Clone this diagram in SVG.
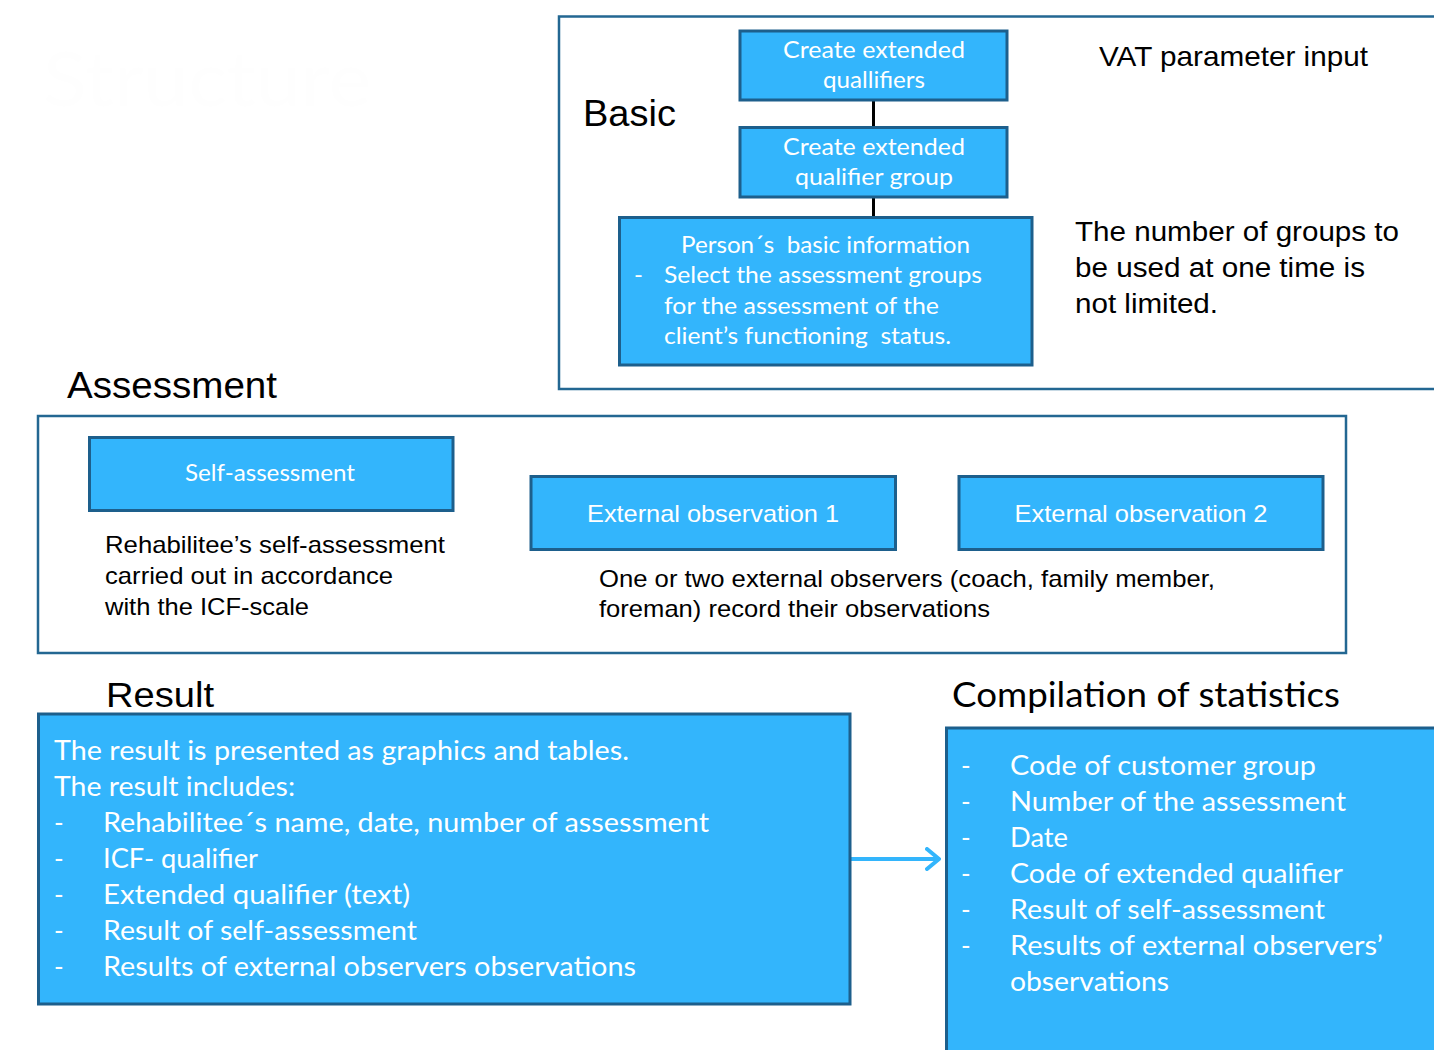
<svg xmlns="http://www.w3.org/2000/svg" width="1434" height="1050" viewBox="0 0 1434 1050">
<style>
.box{fill:#33b5fc;stroke:#1d5f8c;stroke-width:3}
.frame{fill:none;stroke:#236792;stroke-width:2.5}
.w{font-family:Lato,'Open Sans','Noto Sans',sans-serif;fill:#ffffff}
.k{font-family:'Liberation Sans',Arial,sans-serif;fill:#000000}
.c{font-family:Lato,'Open Sans','Noto Sans',sans-serif;fill:#000000}
.pre{white-space:pre}
.conn{stroke:#000;stroke-width:3;fill:none}
.arrow{stroke:#33b5fc;stroke-width:4;fill:none}
</style>
<defs>
<marker id="chev" viewBox="0 0 16 24" refX="14" refY="12" markerWidth="16" markerHeight="24" markerUnits="userSpaceOnUse" orient="auto">
<path d="M2,2 L14,12 L2,22" fill="none" stroke="#33b5fc" stroke-width="4" stroke-linecap="round" stroke-linejoin="round"/>
</marker>
</defs>
<rect width="1434" height="1050" fill="#ffffff"/>

<text x="43" y="106" font-size="76" class="c" style="fill:#fefefe" textLength="328" lengthAdjust="spacingAndGlyphs">Structure</text>

<g id="basic">
<rect class="frame" x="559" y="16.5" width="890" height="372.5"/>
<text x="583" y="126" font-size="37" class="k" textLength="93" lengthAdjust="spacingAndGlyphs">Basic</text>
<text x="1099" y="66" font-size="28" class="k" textLength="269" lengthAdjust="spacingAndGlyphs">VAT parameter input</text>
<text font-size="27" class="k">
<tspan x="1075" y="241" textLength="324" lengthAdjust="spacingAndGlyphs">The number of groups to</tspan>
<tspan x="1075" y="277" textLength="290" lengthAdjust="spacingAndGlyphs">be used at one time is</tspan>
<tspan x="1075" y="313" textLength="143" lengthAdjust="spacingAndGlyphs">not limited.</tspan>
</text>
</g>

<g id="connectors">
<line class="conn" x1="873.5" y1="100" x2="873.5" y2="127"/>
<line class="conn" x1="873.5" y1="197" x2="873.5" y2="217"/>
<line class="arrow" x1="851" y1="859" x2="939" y2="859" marker-end="url(#chev)"/>
</g>

<g id="n-qualifiers">
<rect class="box" x="740" y="31" width="267" height="69"/>
<text x="874" y="58" font-size="24" class="w" text-anchor="middle" textLength="182" lengthAdjust="spacingAndGlyphs">Create extended</text>
<text x="874" y="88" font-size="24" class="w" text-anchor="middle" textLength="102" lengthAdjust="spacingAndGlyphs">quallifiers</text>
</g>

<g id="n-group">
<rect class="box" x="740" y="127.5" width="267" height="69.5"/>
<text x="874" y="155" font-size="24" class="w" text-anchor="middle" textLength="182" lengthAdjust="spacingAndGlyphs">Create extended</text>
<text x="874" y="185" font-size="24" class="w" text-anchor="middle" textLength="158" lengthAdjust="spacingAndGlyphs">qualifier group</text>
</g>

<g id="n-person">
<rect class="box" x="619.5" y="217.5" width="412.5" height="147.5"/>
<text x="681" y="253" font-size="24" class="w pre" textLength="289" lengthAdjust="spacingAndGlyphs">Person´s  basic information</text>
<text x="634" y="283" font-size="24" class="w">-</text>
<text x="664" y="283" font-size="24" class="w" textLength="318" lengthAdjust="spacingAndGlyphs">Select the assessment groups</text>
<text x="664" y="314" font-size="24" class="w" textLength="275" lengthAdjust="spacingAndGlyphs">for the assessment of the</text>
<text x="664" y="344" font-size="24" class="w pre" textLength="287" lengthAdjust="spacingAndGlyphs">client’s functioning  status.</text>
</g>

<g id="assessment">
<text x="67" y="398" font-size="36" class="k" textLength="210" lengthAdjust="spacingAndGlyphs">Assessment</text>
<rect class="frame" x="38" y="416" width="1308" height="237"/>
<text x="105" y="553" font-size="24" class="k" textLength="340" lengthAdjust="spacingAndGlyphs">Rehabilitee’s self-assessment</text>
<text x="105" y="584" font-size="24" class="k" textLength="288" lengthAdjust="spacingAndGlyphs">carried out in accordance</text>
<text x="105" y="615" font-size="24" class="k" textLength="204" lengthAdjust="spacingAndGlyphs">with the ICF-scale</text>
<text x="599" y="587" font-size="24" class="k" textLength="616" lengthAdjust="spacingAndGlyphs">One or two external observers (coach, family member,</text>
<text x="599" y="617" font-size="24" class="k" textLength="391" lengthAdjust="spacingAndGlyphs">foreman) record their observations</text>
</g>

<g id="n-self">
<rect class="box" x="89.5" y="437.5" width="363.5" height="73"/>
<text x="270" y="481" font-size="24" class="w" text-anchor="middle" textLength="170" lengthAdjust="spacingAndGlyphs">Self-assessment</text>
</g>

<g id="n-ext1">
<rect class="box" x="531" y="476.5" width="364.5" height="73"/>
<text x="713" y="522" font-size="24" class="k" style="fill:#fff" text-anchor="middle" textLength="252" lengthAdjust="spacingAndGlyphs">External observation 1</text>
</g>

<g id="n-ext2">
<rect class="box" x="959" y="476.5" width="364" height="73"/>
<text x="1141" y="522" font-size="24" class="k" style="fill:#fff" text-anchor="middle" textLength="253" lengthAdjust="spacingAndGlyphs">External observation 2</text>
</g>

<g id="n-result">
<text x="106" y="707" font-size="35" class="k" textLength="108" lengthAdjust="spacingAndGlyphs">Result</text>
<rect class="box" x="38.5" y="714" width="811.5" height="290"/>
<text x="54" y="760" font-size="26" class="w" textLength="575" lengthAdjust="spacingAndGlyphs">The result is presented as graphics and tables.</text>
<text x="54" y="796" font-size="26" class="w" textLength="241" lengthAdjust="spacingAndGlyphs">The result includes:</text>
<g font-size="26" class="w">
<text x="54" y="832">-</text>
<text x="54" y="868">-</text>
<text x="54" y="904">-</text>
<text x="54" y="940">-</text>
<text x="54" y="976">-</text>
</g>
<text x="103" y="832" font-size="26" class="w" textLength="606" lengthAdjust="spacingAndGlyphs">Rehabilitee´s name, date, number of assessment</text>
<text x="103" y="868" font-size="26" class="w" textLength="155" lengthAdjust="spacingAndGlyphs">ICF- qualifier</text>
<text x="103" y="904" font-size="26" class="w" textLength="307" lengthAdjust="spacingAndGlyphs">Extended qualifier (text)</text>
<text x="103" y="940" font-size="26" class="w" textLength="314" lengthAdjust="spacingAndGlyphs">Result of self-assessment</text>
<text x="103" y="976" font-size="26" class="w" textLength="533" lengthAdjust="spacingAndGlyphs">Results of external observers observations</text>
</g>

<g id="n-stats">
<text x="952" y="707" font-size="34" class="c" textLength="388" lengthAdjust="spacingAndGlyphs">Compilation of statistics</text>
<rect class="box" x="946.5" y="728" width="500" height="340"/>
<g font-size="26" class="w">
<text x="961" y="775">-</text>
<text x="961" y="811">-</text>
<text x="961" y="847">-</text>
<text x="961" y="883">-</text>
<text x="961" y="919">-</text>
<text x="961" y="955">-</text>
</g>
<text x="1010" y="775" font-size="26" class="w" textLength="306" lengthAdjust="spacingAndGlyphs">Code of customer group</text>
<text x="1010" y="811" font-size="26" class="w" textLength="336" lengthAdjust="spacingAndGlyphs">Number of the assessment</text>
<text x="1010" y="847" font-size="26" class="w" textLength="58" lengthAdjust="spacingAndGlyphs">Date</text>
<text x="1010" y="883" font-size="26" class="w" textLength="333" lengthAdjust="spacingAndGlyphs">Code of extended qualifier</text>
<text x="1010" y="919" font-size="26" class="w" textLength="315" lengthAdjust="spacingAndGlyphs">Result of self-assessment</text>
<text x="1010" y="955" font-size="26" class="w" textLength="373" lengthAdjust="spacingAndGlyphs">Results of external observers’</text>
<text x="1010" y="991" font-size="26" class="w" textLength="159" lengthAdjust="spacingAndGlyphs">observations</text>
</g>
</svg>
